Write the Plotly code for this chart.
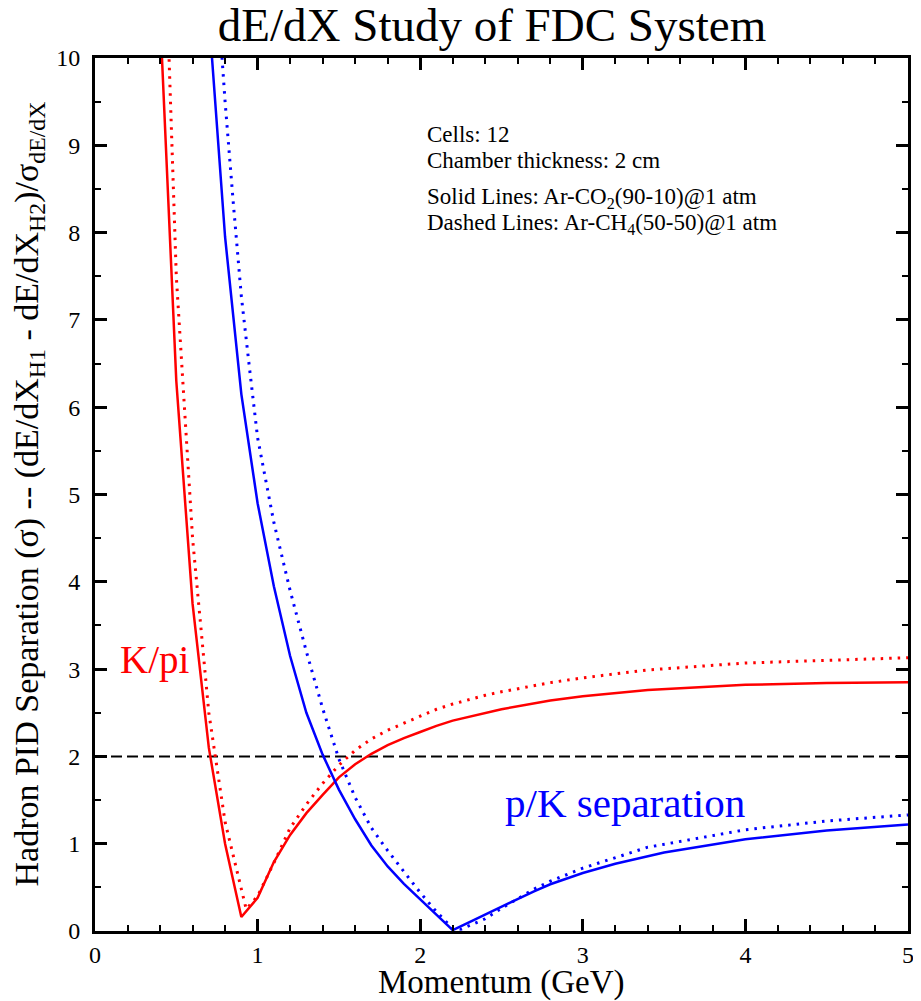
import plotly.graph_objects as go

# ---- data ----
# K/pi separation, Ar-CO2(90-10) (solid)
kpi_co2_p = [0.40, 0.50, 0.60, 0.70, 0.80, 0.90, 1.00, 1.10, 1.20, 1.30, 1.40, 1.50, 1.60, 1.70,
             1.80, 1.90, 2.00, 2.10, 2.20, 2.30, 2.40, 2.50, 2.80, 3.00, 3.40, 4.00, 4.50, 5.00]
kpi_co2_s = [10.5, 6.3, 3.75, 2.1, 1.0, 0.16, 0.38, 0.79, 1.10, 1.35, 1.56, 1.76, 1.91, 2.03,
             2.13, 2.21, 2.28, 2.35, 2.41, 2.455, 2.50, 2.54, 2.64, 2.69, 2.76, 2.82, 2.84, 2.85]

# K/pi separation, Ar-CH4(50-50) (dotted)
kpi_ch4_p = [0.40, 0.50, 0.60, 0.70, 0.80, 0.93, 1.00, 1.10, 1.20, 1.30, 1.40, 1.50, 1.60, 1.70,
             1.80, 1.90, 2.00, 2.10, 2.20, 2.30, 2.40, 2.50, 2.80, 3.00, 3.40, 4.00, 4.50, 5.00]
kpi_ch4_s = [13.1, 7.5, 4.5, 2.5, 1.25, 0.25, 0.40, 0.78, 1.18, 1.45, 1.69, 1.90, 2.07, 2.20,
             2.30, 2.38, 2.46, 2.54, 2.60, 2.65, 2.70, 2.74, 2.845, 2.90, 2.99, 3.07, 3.10, 3.13]

# p/K separation, Ar-CO2(90-10) (solid)
pk_co2_p = [0.70, 0.80, 0.90, 1.00, 1.10, 1.20, 1.30, 1.40, 1.50, 1.60, 1.70, 1.80, 1.90, 2.00,
            2.10, 2.20, 2.30, 2.40, 2.50, 2.60, 2.70, 2.80, 3.00, 3.20, 3.50, 4.00, 4.50, 5.00]
pk_co2_s = [10.5, 7.95, 6.15, 4.90, 3.95, 3.15, 2.50, 2.02, 1.62, 1.28, 0.98, 0.74, 0.54, 0.36,
            0.18, 0.01, 0.10, 0.19, 0.28, 0.37, 0.455, 0.535, 0.665, 0.77, 0.90, 1.05, 1.15, 1.22]

# p/K separation, Ar-CH4(50-50) (dotted)
pk_ch4_p = [0.77, 0.80, 0.85, 0.90, 0.95, 1.00, 1.10, 1.20, 1.30, 1.40, 1.50, 1.60, 1.70, 1.80,
            1.90, 2.00, 2.10, 2.20, 2.25, 2.40, 2.50, 2.60, 2.70, 2.80, 3.00, 3.40, 4.00, 4.50, 5.00]
pk_ch4_s = [10.3, 9.5, 8.35, 7.27, 6.45, 5.65, 4.68, 3.90, 3.20, 2.55, 1.97, 1.53, 1.18, 0.92,
            0.68, 0.44, 0.22, 0.03, 0.02, 0.14, 0.26, 0.37, 0.48, 0.57, 0.72, 0.96, 1.16, 1.26, 1.33]

threshold_level = 2.0
x_range = [0, 5]
y_range = [0, 10]
x_ticks = [0, 1, 2, 3, 4, 5]
y_ticks = [0, 1, 2, 3, 4, 5, 6, 7, 8, 9, 10]

info_lines = ["Cells: 12",
              "Chamber thickness: 2 cm",
              "Solid Lines: Ar-CO<sub>2</sub>(90-10)@1 atm",
              "Dashed Lines: Ar-CH<sub>4</sub>(50-50)@1 atm"]
info_y = [9.12, 8.83, 8.40, 8.10]

FONT = "Liberation Serif"
RED = "#ff0000"
BLUE = "#0000ff"

fig = go.Figure()

fig.add_trace(go.Scatter(x=x_range, y=[threshold_level, threshold_level], mode="lines",
                         line=dict(color="black", width=2, dash="11px,5px"),
                         showlegend=False, hoverinfo="skip"))
fig.add_trace(go.Scatter(x=kpi_ch4_p, y=kpi_ch4_s, mode="lines",
                         line=dict(color=RED, width=3, dash="2.5px,6px"), showlegend=False))
fig.add_trace(go.Scatter(x=pk_ch4_p, y=pk_ch4_s, mode="lines",
                         line=dict(color=BLUE, width=3, dash="2.5px,6px"), showlegend=False))
fig.add_trace(go.Scatter(x=kpi_co2_p, y=kpi_co2_s, mode="lines",
                         line=dict(color=RED, width=2.5), showlegend=False))
fig.add_trace(go.Scatter(x=pk_co2_p, y=pk_co2_s, mode="lines",
                         line=dict(color=BLUE, width=2.5), showlegend=False))

axis_common = dict(showline=True, linecolor="black", linewidth=3, mirror="allticks",
                   ticks="inside", ticklen=12, tickwidth=2.5, tickcolor="black",
                   showgrid=False, zeroline=False,
                   tickfont=dict(family=FONT, size=24, color="black"))

fig.update_xaxes(range=x_range, tickvals=x_ticks, ticklabelstandoff=0,
                 minor=dict(dtick=0.2, ticks="inside", ticklen=6, tickwidth=2, tickcolor="black"),
                 **axis_common)
fig.update_yaxes(range=y_range, tickvals=y_ticks, ticklabelstandoff=7,
                 minor=dict(dtick=0.5, ticks="inside", ticklen=6, tickwidth=2, tickcolor="black"),
                 **axis_common)

annotations = []
for txt, yy in zip(info_lines, info_y):
    annotations.append(dict(x=2.03, y=yy, xref="x", yref="y", text=txt, showarrow=False,
                            xanchor="left", yanchor="middle",
                            font=dict(family=FONT, size=23, color="black")))
annotations.append(dict(x=0.14, y=3.10, xref="x", yref="y", text="K/pi", showarrow=False,
                        xanchor="left", yanchor="middle",
                        font=dict(family=FONT, size=39, color=RED)))
annotations.append(dict(x=2.51, y=1.47, xref="x", yref="y", text="p/K separation", showarrow=False,
                        xanchor="left", yanchor="middle",
                        font=dict(family=FONT, size=41, color=BLUE)))
annotations.append(dict(x=0.5006, y=-0.0585, xref="paper", yref="paper", text="Momentum (GeV)",
                        showarrow=False, xanchor="center", yanchor="middle",
                        font=dict(family=FONT, size=33, color="black")))
annotations.append(dict(x=-0.0824, y=0.5, xref="paper", yref="paper", textangle=-90,
                        text="Hadron PID Separation (σ) -- (dE/dX<sub>H1</sub> - dE/dX<sub>H2</sub>)/σ<sub>dE/dX</sub>",
                        showarrow=False, xanchor="center", yanchor="middle",
                        font=dict(family=FONT, size=34, color="black")))

fig.update_layout(
    width=921, height=1001,
    margin=dict(l=87, r=21, t=50, b=78),
    paper_bgcolor="white", plot_bgcolor="white",
    title=dict(text="dE/dX Study of FDC System", x=(492 - 8) / 921, xanchor="center",
               y=1.0, yanchor="top", yref="container",
               font=dict(family=FONT, size=47, color="black")),
    annotations=annotations,
)

fig.write_html("out.html")
